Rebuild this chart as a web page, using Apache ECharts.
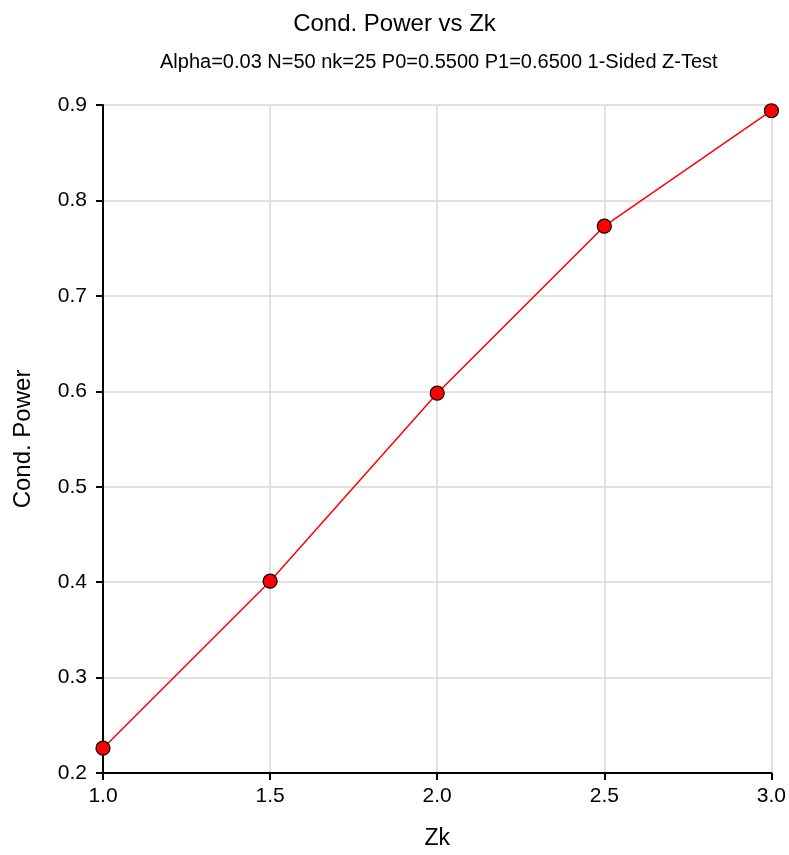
<!DOCTYPE html>
<html><head><meta charset="utf-8">
<script src="https://cdn.jsdelivr.net/npm/echarts@6/dist/echarts.min.js"></script>
<style>html,body{margin:0;padding:0;background:#fff}#c{width:789px;height:855px}</style>
</head><body><div id="c"></div>
<script>
const zk = [1.0, 1.5, 2.0, 2.5, 3.0];
const condPower = [0.226, 0.401, 0.598, 0.773, 0.894];
const titleText = 'Cond. Power vs Zk';
const subtitleText = 'Alpha=0.03 N=50 nk=25 P0=0.5500 P1=0.6500 1-Sided Z-Test';

const chart = echarts.init(document.getElementById('c'));
const font = 'Liberation Sans, Arial, sans-serif';
chart.setOption({
  animation: false,
  title: [
    {text: titleText, left: 'center', top: 7, textStyle: {fontFamily: font, fontSize: 24, fontWeight: 'normal', color: '#000'}},
    {text: subtitleText, left: 155, top: 47, textStyle: {fontFamily: font, fontSize: 20, fontWeight: 'normal', color: '#000'}}
  ],
  grid: {left: 103, right: 17, top: 105, bottom: 80},
  xAxis: {
    type: 'value', min: 1.0, max: 3.0, interval: 0.5,
    name: 'Zk', nameLocation: 'middle', nameGap: 54,
    nameTextStyle: {fontFamily: font, fontSize: 23, color: '#000'},
    axisLine: {show: true, lineStyle: {color: '#000', width: 2}},
    axisTick: {show: true, length: 7, lineStyle: {color: '#000', width: 2}},
    axisLabel: {fontFamily: font, fontSize: 21, color: '#000', margin: 13, formatter: v => v.toFixed(1)},
    splitLine: {show: true, lineStyle: {color: '#d9d9d9', width: 1.5}}
  },
  yAxis: {
    type: 'value', min: 0.2, max: 0.9, interval: 0.1,
    name: 'Cond. Power', nameLocation: 'middle', nameGap: 68,
    nameTextStyle: {fontFamily: font, fontSize: 24, color: '#000'},
    axisLine: {show: true, lineStyle: {color: '#000', width: 2}},
    axisTick: {show: true, length: 7, lineStyle: {color: '#000', width: 2}},
    axisLabel: {fontFamily: font, fontSize: 21, color: '#000', margin: 16, formatter: v => v.toFixed(1)},
    splitLine: {show: true, lineStyle: {color: '#d9d9d9', width: 1.5}}
  },
  series: [{
    type: 'line',
    data: zk.map((x, i) => [x, condPower[i]]),
    symbol: 'circle', symbolSize: 14,
    itemStyle: {color: '#ff0000', borderColor: '#000', borderWidth: 1.2},
    lineStyle: {color: '#ff0000', width: 1.5},
    clip: false
  }]
});
</script></body></html>
